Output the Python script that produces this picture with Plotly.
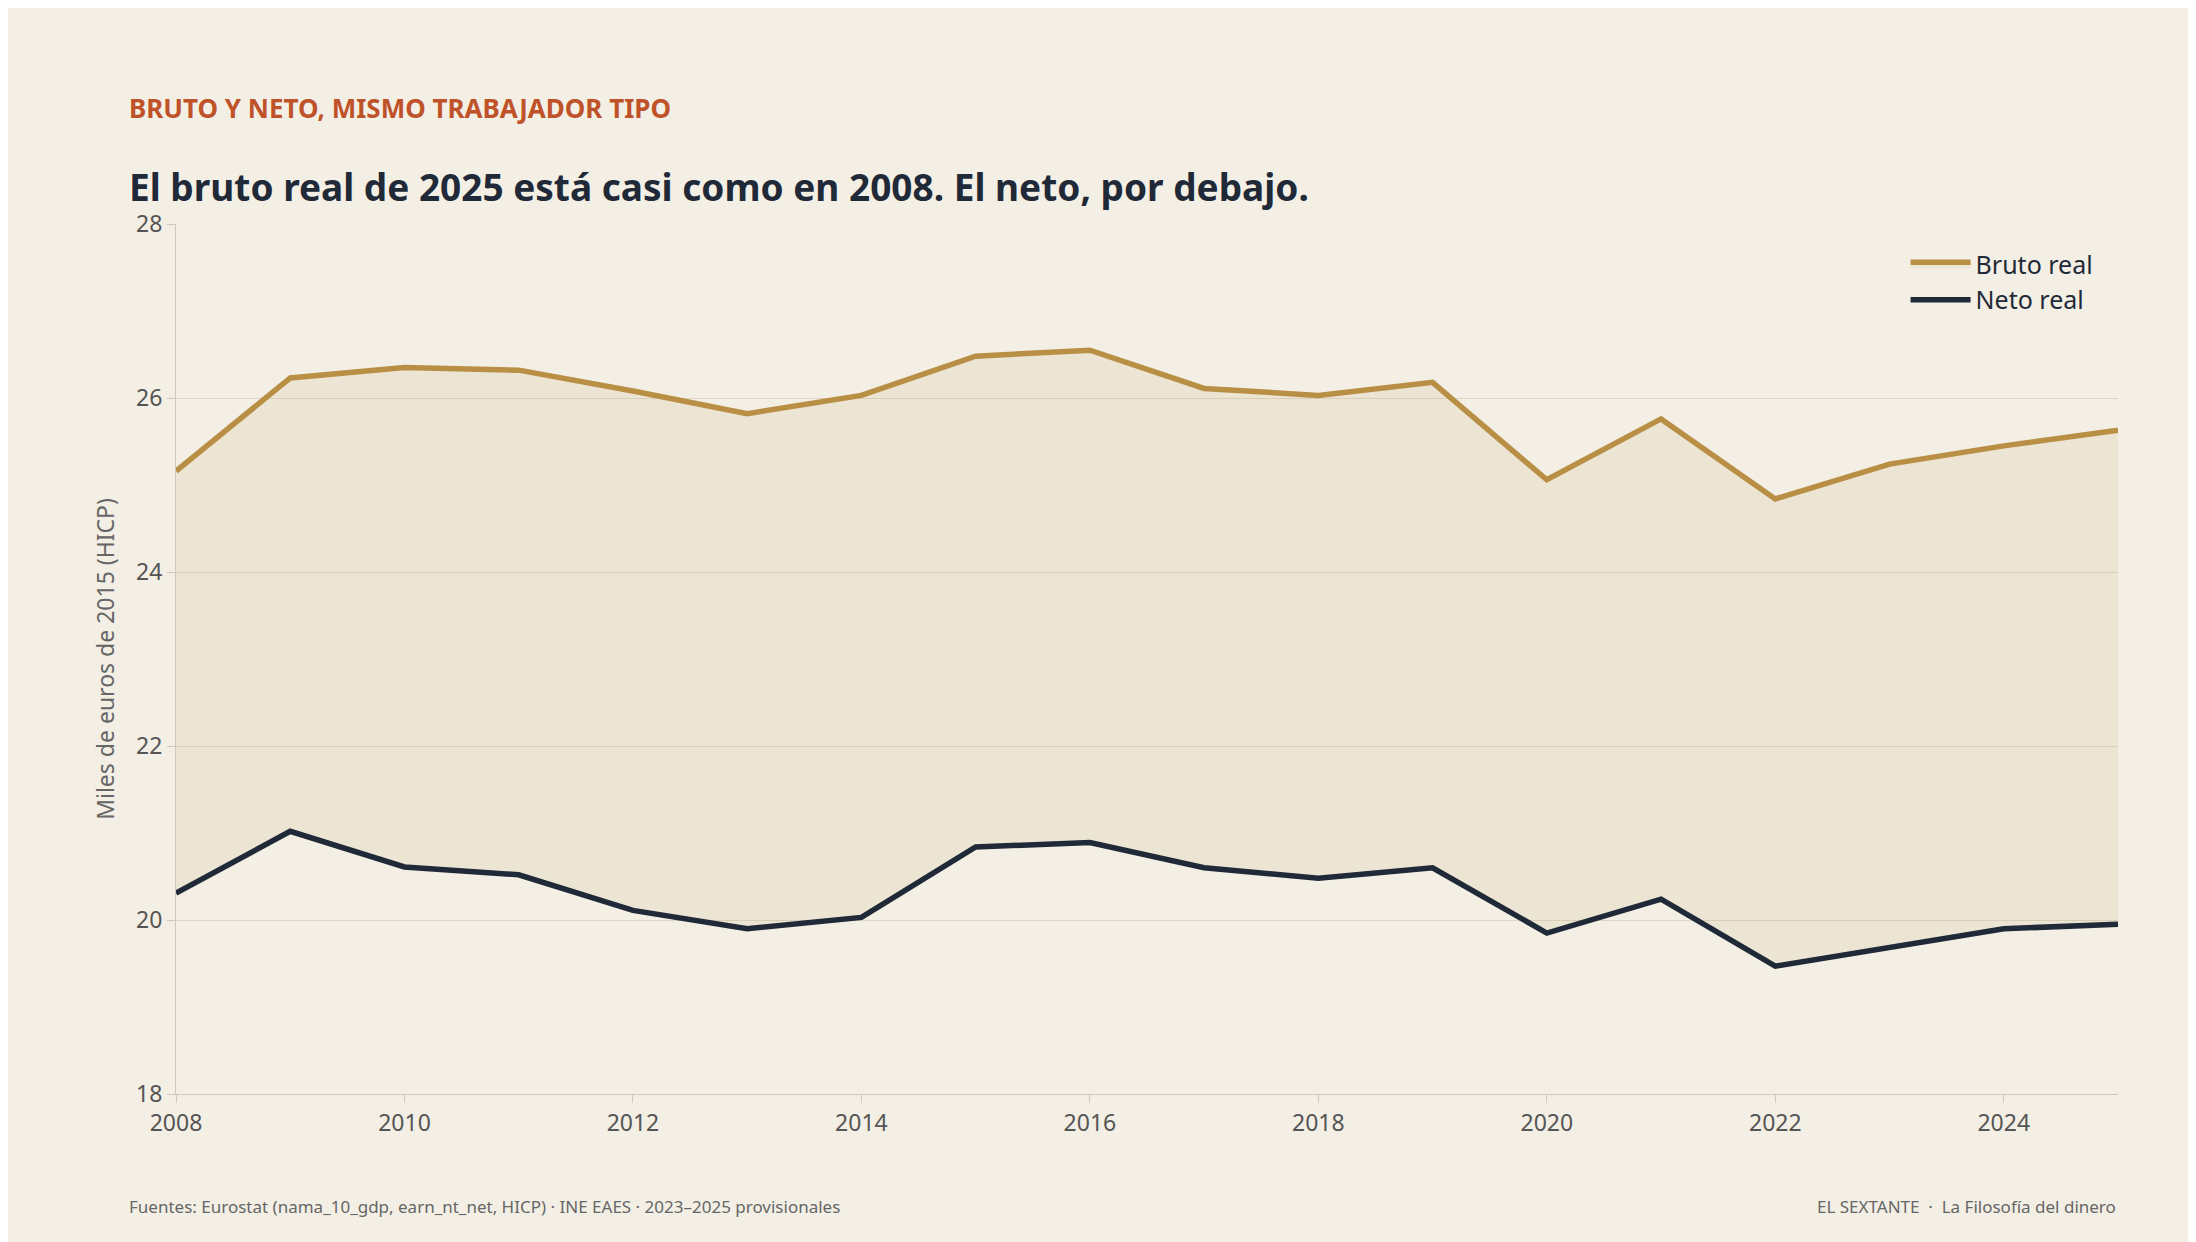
import plotly.graph_objects as go

years = list(range(2008, 2026))
bruto = [25.16, 26.23, 26.35, 26.32, 26.08, 25.82, 26.03, 26.48, 26.55, 26.11,
         26.03, 26.18, 25.06, 25.76, 24.84, 25.24, 25.45, 25.63]
neto = [20.31, 21.02, 20.61, 20.52, 20.11, 19.90, 20.03, 20.84, 20.89, 20.60,
        20.48, 20.60, 19.85, 20.24, 19.47, 19.68, 19.90, 19.95]

BG = "#f3efe5"
FONT = "Noto Sans"

fig = go.Figure()
fig.add_trace(go.Scatter(x=years, y=neto, name="Neto real", mode="lines",
                         line=dict(color="#1f2937", width=5.5)))
fig.add_trace(go.Scatter(x=years, y=bruto, name="Bruto real", mode="lines",
                         line=dict(color="#b98f45", width=5.5),
                         fill="tonexty", fillcolor="rgba(185,143,69,0.10)"))

fig.update_layout(
    width=2196, height=1242,
    paper_bgcolor=BG, plot_bgcolor=BG,
    font=dict(family=FONT, color="#555", size=23),
    margin=dict(l=168, r=86, t=216, b=156),
    showlegend=True,
    legend=dict(x=0.99, y=0.98, xanchor="right", yanchor="top",
                traceorder="reversed", bgcolor="rgba(0,0,0,0)", itemwidth=60,
                font=dict(size=25, color="#1f2937")),
    xaxis=dict(range=[2008, 2025], tickvals=list(range(2008, 2025, 2)),
               showgrid=False, showline=True, linecolor="#cfc8b8",
               ticks="outside", tickcolor="#cfc8b8", ticklen=8, zeroline=False),
    yaxis=dict(range=[18, 28], dtick=2, gridcolor="#ddd6c6",
               showline=True, linecolor="#cfc8b8", ticks="outside",
               tickcolor="#cfc8b8", ticklen=8, zeroline=False,
               title=dict(text="Miles de euros de 2015 (HICP)", font=dict(size=23, color="#666"))),
)

X0 = -0.025
fig.add_annotation(text="<b>BRUTO Y NETO, MISMO TRABAJADOR TIPO</b>", xref="paper", yref="paper",
                   x=X0, y=1.0, yshift=116, xanchor="left", yanchor="middle",
                   showarrow=False, font=dict(size=26, color="#c0522a"))
fig.add_annotation(text="<b>El bruto real de 2025 está casi como en 2008. El neto, por debajo.</b>",
                   xref="paper", yref="paper", x=X0, y=1.0, yshift=38,
                   xanchor="left", yanchor="middle", showarrow=False,
                   font=dict(size=37, color="#1f2937"))
fig.add_annotation(text="Fuentes: Eurostat (nama_10_gdp, earn_nt_net, HICP) · INE EAES · 2023–2025 provisionales",
                   xref="paper", yref="paper", x=X0, y=0, yshift=-112,
                   xanchor="left", yanchor="middle", showarrow=False,
                   font=dict(size=17, color="#666"))
fig.add_annotation(text="EL SEXTANTE  ·  La Filosofía del dinero",
                   xref="paper", yref="paper", x=1.0, y=0, yshift=-112,
                   xanchor="right", yanchor="middle", showarrow=False,
                   font=dict(size=17, color="#666"))

fig.write_html("out.html")
